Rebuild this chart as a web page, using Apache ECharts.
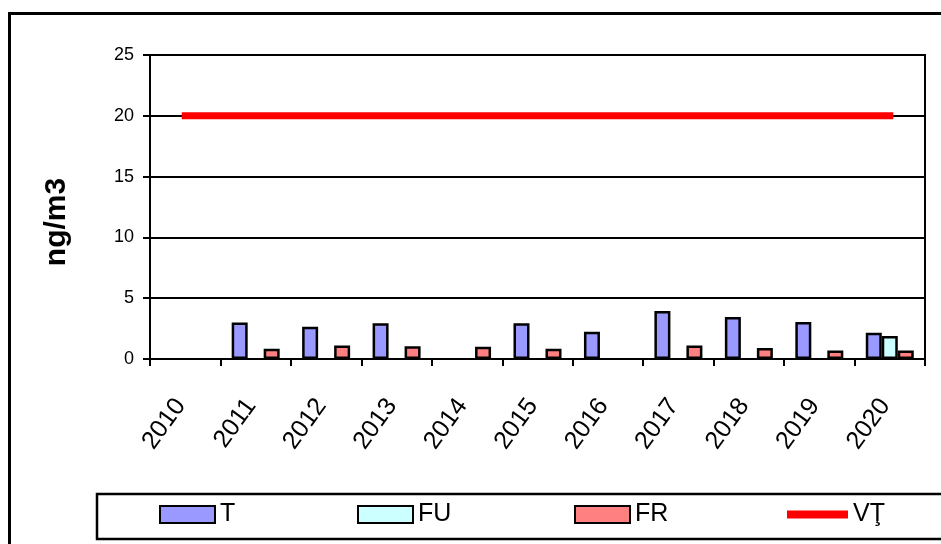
<!DOCTYPE html>
<html>
<head>
<meta charset="utf-8">
<script src="https://cdn.jsdelivr.net/npm/echarts@6/dist/echarts.min.js"></script>
<style>
  html, body { margin: 0; padding: 0; background: #fff; }
  #chart { width: 941px; height: 544px; }
</style>
</head>
<body>
<div id="chart"></div>
<script>
// date
var years = ['2010', '2011', '2012', '2013', '2014', '2015', '2016', '2017', '2018', '2019', '2020'];
var valT  = [null, 3.0, 2.65, 2.95, null, 2.95, 2.25, 3.95, 3.45, 3.05, 2.15];
var valFU = [null, null, null, null, null, null, null, null, null, null, 1.9];
var valFR = [null, 0.85, 1.1, 1.05, 1.0, 0.85, null, 1.1, 0.9, 0.7, 0.7];
var valVT = [20, 20, 20, 20, 20, 20, 20, 20, 20, 20, 20];
var yTicks = [0, 5, 10, 15, 20, 25];

var font = 'Arial, "Liberation Sans", sans-serif';

function barSeries(name, data, color) {
    return {
        name: name,
        type: 'bar',
        data: data,
        barWidth: 16,
        barGap: '0%',
        itemStyle: { color: color, borderColor: '#000', borderWidth: 2.5 },
        emphasis: { disabled: true }
    };
}

//o legenda pentru fiecare element, ca sa le asez ca in Excel
function legendAt(left, item, w, h) {
    return {
        left: left,
        top: 502,
        padding: 0,
        itemWidth: w,
        itemHeight: h,
        selectedMode: false,
        data: [item],
        textStyle: { fontFamily: font, fontSize: 25, color: '#000', lineHeight: 25 }
    };
}

var chart = echarts.init(document.getElementById('chart'));

var option = {
    backgroundColor: '#fff',
    animation: false,
    grid: {
        left: 150, right: 16, top: 55, bottom: 185,
        show: true, borderColor: '#000', borderWidth: 2
    },
    graphic: [
        { type: 'rect', shape: { x: 9.5, y: 13.5, width: 1000, height: 600 },
          style: { fill: null, stroke: '#000', lineWidth: 3 }, silent: true },
        { type: 'rect', shape: { x: 97, y: 494, width: 900, height: 45 },
          style: { fill: null, stroke: '#000', lineWidth: 2.5 }, silent: true }
    ],
    legend: [
        legendAt(159, { name: 'T', icon: 'rect' }, 55, 17),
        legendAt(357, { name: 'FU', icon: 'rect' }, 55, 17),
        legendAt(574, { name: 'FR', icon: 'rect' }, 55, 17),
        legendAt(787, { name: 'VŢ', icon: 'rect' }, 61, 8)
    ],
    xAxis: {
        type: 'category',
        data: years,
        boundaryGap: true,
        axisLine: { lineStyle: { color: '#000', width: 2 } },
        axisTick: { show: true, length: 7, lineStyle: { color: '#000', width: 2 } },
        axisLabel: {
            interval: 0,
            rotate: 54,
            margin: 36,
            padding: [0, 8, 0, 0],
            fontFamily: font,
            fontSize: 25,
            color: '#000'
        },
        splitLine: { show: false }
    },
    yAxis: {
        type: 'value',
        min: yTicks[0],
        max: yTicks[yTicks.length - 1],
        interval: 5,
        name: 'ng/m3',
        nameLocation: 'middle',
        nameGap: 78,
        nameRotate: 90,
        nameTextStyle: {
            fontFamily: font, fontSize: 30, fontWeight: 'bold', color: '#000',
            padding: [0, 30, 0, 0]
        },
        axisLine: { show: true, lineStyle: { color: '#000', width: 2 } },
        axisTick: { show: true, length: 7, lineStyle: { color: '#000', width: 2 } },
        axisLabel: { margin: 16, fontFamily: font, fontSize: 18, color: '#000' },
        splitLine: { show: true, lineStyle: { color: '#000', width: 2 } }
    },
    series: [
        barSeries('T', valT, '#9999FF'),
        barSeries('FU', valFU, '#CCFFFF'),
        barSeries('FR', valFR, '#FF8080'),
        {
            name: 'VŢ',
            type: 'line',
            data: valVT,
            symbol: 'none',
            lineStyle: { color: '#FF0000', width: 7, cap: 'square' },
            itemStyle: { color: '#FF0000' },
            emphasis: { disabled: true },
            z: 3
        }
    ]
};

chart.setOption(option);
</script>
</body>
</html>
